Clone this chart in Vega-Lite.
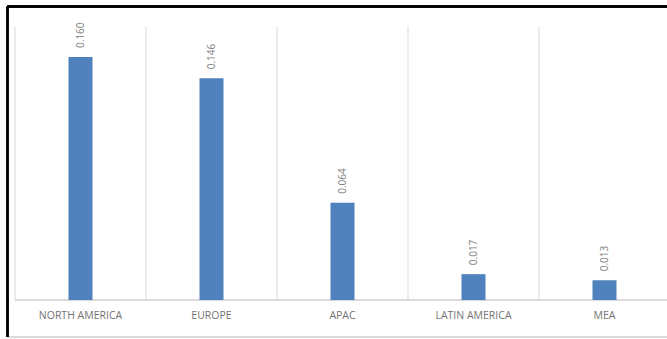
{
  "$schema": "https://vega.github.io/schema/vega-lite/v6.json",
  "autosize": {"type": "none"},
  "padding": {"left": 7.5, "top": 6.5, "right": 0, "bottom": 2},
  "width": 661,
  "height": 330.5,
  "background": "white",
  "config": {"view": {"stroke": null}, "font": "Open Sans"},
  "data": {"values": [
    {"region": "NORTH AMERICA", "value": 0.160},
    {"region": "EUROPE", "value": 0.146},
    {"region": "APAC", "value": 0.064},
    {"region": "LATIN AMERICA", "value": 0.017},
    {"region": "MEA", "value": 0.013}
  ]},
  "layer": [
    {
      "mark": {"type": "rule", "color": "#d9d9d9", "strokeWidth": 1},
      "encoding": {
        "x": {"field": "region", "type": "nominal", "sort": null, "bandPosition": 0, "axis": null,
              "scale": {"range": [7.5, 662.5], "paddingInner": 0, "paddingOuter": 0}},
        "y": {"datum": 0, "type": "quantitative", "axis": null,
              "scale": {"domain": [-0.024358, 0.19322], "nice": false, "zero": false}},
        "y2": {"datum": 0.18}
      }
    },
    {
      "mark": {"type": "rule", "color": "#d9d9d9", "strokeWidth": 1},
      "encoding": {
        "x": {"datum": "NORTH AMERICA", "type": "nominal", "bandPosition": 0},
        "x2": {"datum": "MEA", "bandPosition": 1},
        "y": {"datum": 0, "type": "quantitative"}
      }
    },
    {
      "mark": {"type": "rule", "color": "#d9d9d9", "strokeWidth": 2},
      "encoding": {
        "y": {"datum": -0.024358, "type": "quantitative"}
      }
    },
    {
      "mark": {"type": "rule", "color": "#000000", "strokeWidth": 1.8},
      "encoding": {
        "y": {"datum": 0.19322, "type": "quantitative"}
      }
    },
    {
      "mark": {"type": "rule", "color": "#000000", "strokeWidth": 1.8},
      "encoding": {
        "x": {"datum": "NORTH AMERICA", "type": "nominal", "bandPosition": -0.05725},
        "y": {"datum": 0.19322, "type": "quantitative"},
        "y2": {"datum": -0.024358}
      }
    },
    {
      "mark": {"type": "bar", "color": "#4f81bd", "width": 24},
      "encoding": {
        "x": {"field": "region", "type": "nominal", "sort": null},
        "y": {"field": "value", "type": "quantitative"}
      }
    },
    {
      "mark": {"type": "text", "angle": 270, "align": "left", "baseline": "middle", "dx": 9, "fontSize": 10, "color": "#7f7f7f"},
      "encoding": {
        "x": {"field": "region", "type": "nominal", "sort": null},
        "y": {"field": "value", "type": "quantitative"},
        "text": {"field": "value", "type": "quantitative", "format": ".3f"}
      }
    },
    {
      "mark": {"type": "text", "align": "center", "baseline": "middle", "fontSize": 10.5, "color": "#737373"},
      "encoding": {
        "x": {"field": "region", "type": "nominal", "sort": null},
        "y": {"datum": -0.0105, "type": "quantitative"},
        "text": {"field": "region", "type": "nominal"}
      }
    }
  ]
}
